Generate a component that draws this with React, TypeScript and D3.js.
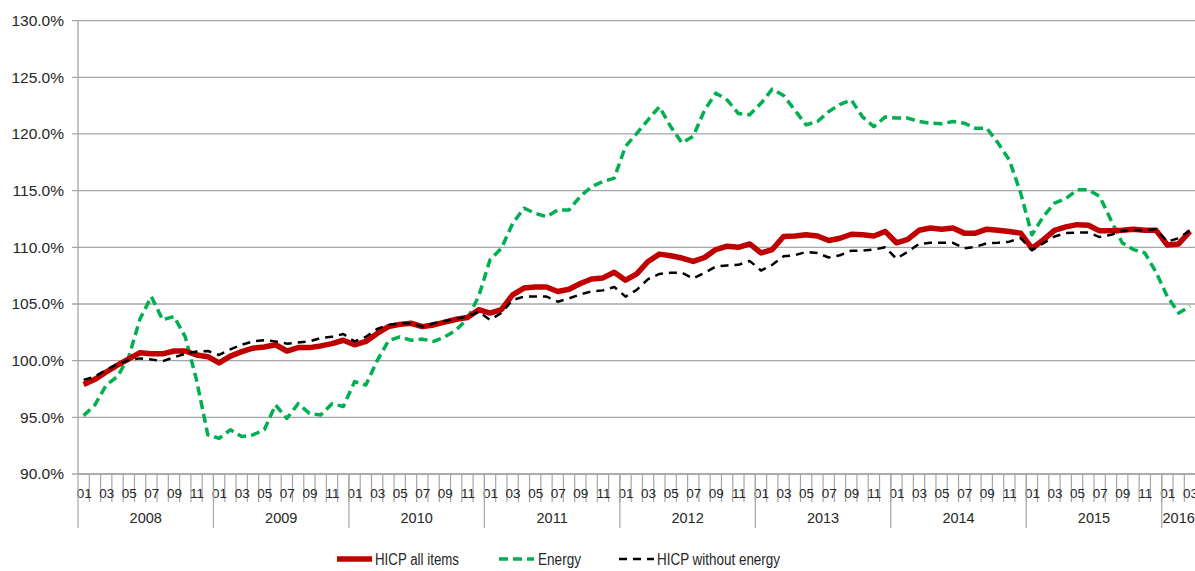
import * as d3 from "d3";
import {useEffect, useRef} from "react";

// category axis: years and months
const years = ["2008", "2009", "2010", "2011", "2012", "2013", "2014", "2015", "2016"];
const monthsInYear = [12, 12, 12, 12, 12, 12, 12, 12, 3];
const monthLabels = ["01", "02", "03", "04", "05", "06", "07", "08", "09", "10", "11", "12"];
const yTicks = [90, 95, 100, 105, 110, 115, 120, 125, 130];

// index values (%), 2008-01 .. 2016-03
const hicpAll = [
    97.9, 98.35, 99.0, 99.6, 100.15, 100.7, 100.6, 100.6, 100.85, 100.85, 100.5, 100.35,
    99.8, 100.4, 100.8, 101.1, 101.2, 101.4, 100.85, 101.15, 101.15, 101.3, 101.5, 101.8,
    101.4, 101.7, 102.4, 103.0, 103.2, 103.3, 103.0, 103.15, 103.4, 103.65, 103.8, 104.5,
    104.2, 104.5, 105.8, 106.4, 106.5, 106.5, 106.1, 106.3, 106.8, 107.2, 107.3, 107.8,
    107.1, 107.65, 108.75, 109.4, 109.25, 109.05, 108.75, 109.1, 109.8, 110.1, 110.0, 110.3,
    109.5, 109.8, 110.95, 111.0, 111.1, 111.0, 110.6, 110.8, 111.15, 111.1, 111.0, 111.4,
    110.4, 110.7, 111.5, 111.7, 111.6, 111.7, 111.25, 111.25, 111.6, 111.5, 111.4, 111.25,
    109.9, 110.65, 111.5, 111.8, 112.0, 111.95, 111.45, 111.45, 111.5, 111.6, 111.5, 111.5,
    110.2, 110.3, 111.4
];

const energy = [
    95.15, 96.1, 97.85, 98.6, 100.35, 103.7, 105.65, 103.6, 103.9, 102.1, 98.3, 93.45,
    93.15, 93.9, 93.3, 93.45, 93.9, 96.1, 94.9, 96.2, 95.35, 95.2, 96.2, 95.95,
    98.15, 97.85, 100.0, 101.75, 102.1, 101.8, 101.9, 101.7, 102.1, 102.7, 103.7, 105.7,
    108.9, 109.9, 112.1, 113.45, 113.0, 112.7, 113.3, 113.3, 114.5, 115.35, 115.8, 116.1,
    118.9, 120.05, 121.25, 122.4, 120.65, 119.2, 119.8, 122.1, 123.6, 123.0, 121.8, 121.7,
    122.7, 123.95, 123.4, 122.1, 120.8, 121.1, 121.97, 122.6, 123.0, 121.5, 120.65, 121.5,
    121.4, 121.4, 121.1, 120.95, 120.9, 121.1, 120.95, 120.5, 120.5, 119.2, 117.7, 114.8,
    111.1, 112.7, 113.9, 114.3, 115.07, 115.07, 114.5, 112.4, 110.4, 109.8, 109.5, 107.8,
    105.65, 104.2, 104.8
];

const hicpExEnergy = [
    98.3, 98.6, 99.2, 99.7, 100.05, 100.2, 100.1, 99.95, 100.3, 100.6, 100.8, 100.85,
    100.5, 101.0, 101.4, 101.7, 101.8, 101.7, 101.5, 101.6, 101.7, 102.0, 102.1, 102.35,
    101.7, 102.1, 102.8, 103.15, 103.3, 103.3, 103.0, 103.3, 103.5, 103.7, 103.9, 104.3,
    103.6, 104.2, 105.35, 105.65, 105.65, 105.65, 105.2, 105.5, 105.85, 106.1, 106.2, 106.5,
    105.65, 106.25, 107.2, 107.65, 107.75, 107.75, 107.25, 107.75, 108.3, 108.4, 108.45, 108.8,
    107.95, 108.45, 109.2, 109.3, 109.6, 109.5, 109.1, 109.3, 109.7, 109.7, 109.8, 110.0,
    109.0, 109.6, 110.3, 110.4, 110.4, 110.4, 109.9, 110.05, 110.35, 110.4, 110.5, 110.8,
    109.75, 110.35, 110.95, 111.25, 111.3, 111.3, 110.9, 111.1, 111.45, 111.5, 111.5, 111.6,
    110.5, 110.8, 111.5
];

const seriesNames = ["HICP all items", "Energy", "HICP without energy"];

export default function App() {
    const ref = useRef(null);

    useEffect(() => {
        document.body.style.margin = "0";
        const root = d3.select(ref.current);
        root.selectAll("*").remove();

        const width = 1195, height = 571;
        const left = 78, right = 1195.6, top = 20.6, bottom = 474;
        const font = "'Liberation Sans', Arial, sans-serif";
        const textColor = "#262626";
        const gridColor = "#a6a6a6";

        const categories = years.flatMap((y, k) =>
            monthLabels.slice(0, monthsInYear[k]).map(m => y + "-" + m));

        const svg = root.append("svg")
            .attr("width", width)
            .attr("height", height)
            .style("display", "block")
            .style("background", "#fff");

        const x = d3.scaleBand().domain(categories).range([left, right]);
        const y = d3.scaleLinear().domain([90, 130]).range([bottom, top]);
        const cx = (i) => x(categories[i]) + x.bandwidth() / 2;

        // horizontal gridlines + y tick labels
        svg.append("g")
            .selectAll("line")
            .data(yTicks)
            .enter()
            .append("line")
            .attr("x1", left - 6)
            .attr("x2", width)
            .attr("y1", d => y(d))
            .attr("y2", d => y(d))
            .attr("stroke", gridColor)
            .attr("stroke-width", 1.3);

        svg.append("g")
            .selectAll("text")
            .data(yTicks)
            .enter()
            .append("text")
            .attr("x", 64)
            .attr("y", d => y(d))
            .attr("dy", "0.35em")
            .attr("text-anchor", "end")
            .style("font-family", font)
            .style("font-size", "15.5px")
            .style("fill", textColor)
            .text(d => d3.format(".1f")(d) + "%");

        // y axis line
        svg.append("line")
            .attr("x1", left).attr("x2", left)
            .attr("y1", top).attr("y2", bottom)
            .attr("stroke", gridColor)
            .attr("stroke-width", 1.3);

        // month ticks
        const xAxis = svg.append("g");
        xAxis.selectAll("line.month")
            .data(categories)
            .enter()
            .append("line")
            .attr("class", "month")
            .attr("x1", d => x(d) + x.bandwidth())
            .attr("x2", d => x(d) + x.bandwidth())
            .attr("y1", bottom)
            .attr("y2", bottom + 28)
            .attr("stroke", gridColor)
            .attr("stroke-width", 1.2);

        xAxis.selectAll("text.month")
            .data(categories.filter((d, i) => i % 2 === 0))
            .enter()
            .append("text")
            .attr("class", "month")
            .attr("x", d => x(d) + x.bandwidth() / 2 + 0.5)
            .attr("y", bottom + 19)
            .attr("dy", "0.35em")
            .attr("text-anchor", "middle")
            .style("font-family", font)
            .style("font-size", "13.5px")
            .style("fill", textColor)
            .text(d => d.slice(5));

        // year separators + labels
        let start = 0;
        const yearSpans = years.map((yr, k) => {
            const s = {year: yr, first: categories[start], last: categories[start + monthsInYear[k] - 1]};
            start += monthsInYear[k];
            return s;
        });

        xAxis.selectAll("line.year")
            .data(yearSpans)
            .enter()
            .append("line")
            .attr("class", "year")
            .attr("x1", d => x(d.first))
            .attr("x2", d => x(d.first))
            .attr("y1", bottom)
            .attr("y2", bottom + 54)
            .attr("stroke", gridColor)
            .attr("stroke-width", 1.2);

        xAxis.selectAll("text.year")
            .data(yearSpans)
            .enter()
            .append("text")
            .attr("class", "year")
            .attr("x", d => (x(d.first) + x(d.last) + x.bandwidth()) / 2)
            .attr("y", bottom + 44)
            .attr("dy", "0.35em")
            .attr("text-anchor", "middle")
            .style("font-family", font)
            .style("font-size", "14.5px")
            .style("fill", textColor)
            .text(d => d.year);

        // x axis line
        svg.append("line")
            .attr("x1", left).attr("x2", width)
            .attr("y1", bottom).attr("y2", bottom)
            .attr("stroke", gridColor)
            .attr("stroke-width", 1.3);

        const line = d3.line()
            .x((d, i) => cx(i))
            .y(d => y(d));

        const styles = [
            {data: hicpAll, color: "#c00000", w: 5.5, dash: null},
            {data: energy, color: "#00b050", w: 3.5, dash: "9,5"},
            {data: hicpExEnergy, color: "#000000", w: 2.5, dash: "8,6"}
        ];

        // energy at the back, then all items, black dashes on top
        [styles[1], styles[0], styles[2]].forEach(s => {
            svg.append("path")
                .datum(s.data)
                .attr("d", line)
                .attr("fill", "none")
                .attr("stroke", s.color)
                .attr("stroke-width", s.w)
                .attr("stroke-dasharray", s.dash)
                .attr("stroke-linejoin", "round");
        });

        // legend (narrow face, squeezed to the original widths)
        const legendPos = [337, 499, 619];
        const legendWidths = [84, 43, 123];
        const legend = svg.append("g");
        styles.forEach((s, k) => {
            legend.append("line")
                .attr("x1", legendPos[k])
                .attr("x2", legendPos[k] + 35)
                .attr("y1", 559)
                .attr("y2", 559)
                .attr("stroke", s.color)
                .attr("stroke-width", s.w)
                .attr("stroke-dasharray", s.dash);
            legend.append("text")
                .attr("x", legendPos[k] + (k === 1 ? 39 : 38))
                .attr("y", 559)
                .attr("dy", "0.35em")
                .attr("textLength", legendWidths[k])
                .attr("lengthAdjust", "spacingAndGlyphs")
                .style("font-family", font)
                .style("font-size", "16px")
                .style("fill", textColor)
                .text(seriesNames[k]);
        });
    }, []);

    return (<><div ref={ref}/></>);
}
